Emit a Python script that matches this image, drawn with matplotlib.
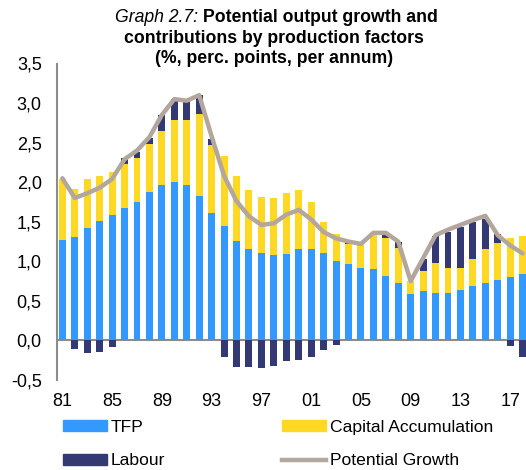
import matplotlib
matplotlib.use('Agg')
import matplotlib.pyplot as plt
import numpy as np
from matplotlib.patches import Patch
from matplotlib.lines import Line2D

plt.rcParams['font.family'] = ['Liberation Sans', 'DejaVu Sans']

years = np.arange(1981, 2019)
tfp = [1.27, 1.31, 1.42, 1.51, 1.59, 1.67, 1.75, 1.87, 1.96, 2.00,
       1.96, 1.82, 1.61, 1.44, 1.26, 1.15, 1.10, 1.075, 1.09, 1.15,
       1.15, 1.10, 1.01, 0.96, 0.92, 0.90, 0.81, 0.72, 0.59, 0.62,
       0.60, 0.60, 0.64, 0.69, 0.73, 0.77, 0.80, 0.84]
capital = [0.77, 0.60, 0.62, 0.57, 0.54, 0.56, 0.56, 0.61, 0.69, 0.79,
           0.82, 1.04, 0.86, 0.89, 0.82, 0.75, 0.71, 0.73, 0.77, 0.75,
           0.60, 0.40, 0.34, 0.26, 0.31, 0.43, 0.48, 0.45, 0.16, 0.26,
           0.375, 0.31, 0.27, 0.34, 0.42, 0.46, 0.49, 0.48]
labour = [0.0, -0.11, -0.16, -0.14, -0.08, 0.07, 0.07, 0.08, 0.20, 0.26,
          0.25, 0.24, 0.08, -0.21, -0.33, -0.34, -0.35, -0.32, -0.26, -0.25,
          -0.21, -0.12, -0.06, 0.02, 0.0, 0.03, 0.05, 0.07, 0.0, 0.15,
          0.34, 0.46, 0.52, 0.47, 0.39, 0.12, -0.075, -0.21]
potential = [2.05, 1.80, 1.86, 1.93, 2.04, 2.29, 2.40, 2.57, 2.85, 3.05,
             3.03, 3.10, 2.58, 2.08, 1.76, 1.57, 1.46, 1.48, 1.59, 1.65,
             1.53, 1.37, 1.29, 1.25, 1.22, 1.36, 1.36, 1.25, 0.75, 1.04,
             1.33, 1.40, 1.46, 1.52, 1.575, 1.33, 1.20, 1.10]
yticks = [-0.5, 0.0, 0.5, 1.0, 1.5, 2.0, 2.5, 3.0, 3.5]
xticks = [1981, 1985, 1989, 1993, 1997, 2001, 2005, 2009, 2013, 2017]

c_tfp = '#3399ff'
c_cap = '#ffd823'
c_lab = '#333a73'
c_pot = '#b3a69d'
c_axis = '#8c8c8c'

fig = plt.figure(figsize=(5.26, 4.70), dpi=100)
ax = fig.add_axes([57 / 526, 90 / 470, 1 - 57 / 526, 316.5 / 470])

tfp_a = np.array(tfp)
cap_a = np.array(capital)
lab_a = np.array(labour)
w = 0.56
ax.bar(years, tfp_a, w, color=c_tfp, zorder=2)
ax.bar(years, cap_a, w, bottom=tfp_a, color=c_cap, zorder=2)
lab_bottom = np.where(lab_a > 0, tfp_a + cap_a, 0)
ax.bar(years, lab_a, w, bottom=lab_bottom, color=c_lab, zorder=2)
ax.plot(years, potential, color=c_pot, lw=3.2, solid_joinstyle='round',
        solid_capstyle='round', zorder=3)

ax.axhline(0, color=c_axis, lw=1.5, zorder=1)
ax.set_xlim(1980.57, 2018.27)
ax.set_ylim(-0.5, 3.5)
for s in ['top', 'right', 'bottom']:
    ax.spines[s].set_visible(False)
ax.spines['left'].set_color(c_axis)
ax.spines['left'].set_linewidth(1.5)

ax.set_yticks(yticks)
ax.set_yticklabels([('%.1f' % v).replace('.', ',') for v in yticks])
ax.set_xticks(xticks)
ax.set_xticklabels(['%02d' % (y % 100) for y in xticks])
ax.tick_params(axis='both', length=0, labelsize=13)
ax.tick_params(axis='y', pad=11)
ax.tick_params(axis='x', pad=9)

# title: italic prefix + bold text
split = 203 / 526
fig.text(split, 1 - 18 / 470, 'Graph 2.7: ', fontsize=12.7, style='italic',
         ha='right', va='center')
fig.text(split, 1 - 18 / 470, 'Potential output growth and', fontsize=12.7,
         weight='bold', ha='left', va='center')
fig.text(274 / 526, 1 - 38.5 / 470, 'contributions by production factors',
         fontsize=12.7, weight='bold', ha='center', va='center')
fig.text(274 / 526, 1 - 58.5 / 470, '(%, perc. points, per annum)',
         fontsize=12.7, weight='bold', ha='center', va='center')

handles = [Patch(color=c_tfp, label='TFP'),
           Patch(color=c_lab, label='Labour'),
           Patch(color=c_cap, label='Capital Accumulation'),
           Line2D([], [], color=c_pot, lw=3.2, label='Potential Growth')]
fig.legend(handles=handles, ncol=2, loc='upper left',
           bbox_to_anchor=(47 / 526, 1 - 404 / 470), frameon=False,
           fontsize=12.6, handlelength=2.5, handleheight=0.6,
           handletextpad=0.25, columnspacing=6.65, labelspacing=1.07)

fig.savefig('out.png', dpi=100)
